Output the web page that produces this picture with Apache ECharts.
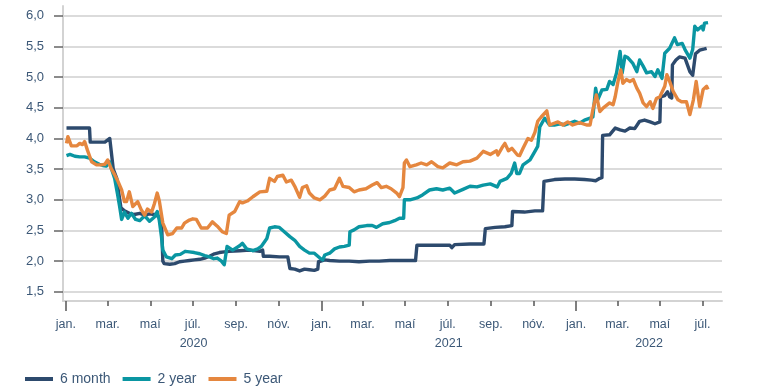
<!DOCTYPE html>
<html>
<head>
<meta charset="utf-8">
<script src="https://cdn.jsdelivr.net/npm/echarts@6/dist/echarts.min.js"></script>
<style>
  html, body { margin: 0; padding: 0; background: #ffffff; }
  #chart { width: 764px; height: 388px; }
</style>
</head>
<body>
<div id="chart"></div>
<script>
// Interest rates, %, by maturity
const seriesNames = ['6 month', '2 year', '5 year'];
const seriesColors = ['#2d4a6d', '#0a96a2', '#e5873f'];

// Icelandic month abbreviations used on the time axis
const monthLabels = ['jan.', 'feb.', 'mar.', 'apr.', 'maí', 'jún.', 'júl.', 'ágú.', 'sep.', 'okt.', 'nóv.', 'des.'];
const years = [2020, 2021, 2022];
const yTicks = [1.5, 2.0, 2.5, 3.0, 3.5, 4.0, 4.5, 5.0, 5.5, 6.0];

const sixMonth = [
  ['2020-01-02', 4.17], ['2020-01-21', 4.17], ['2020-02-04', 4.17], ['2020-02-05', 3.94], ['2020-02-18', 3.94],
  ['2020-02-26', 3.94], ['2020-03-04', 4.00], ['2020-03-06', 3.98], ['2020-03-09', 3.50], ['2020-03-14', 3.35],
  ['2020-03-17', 3.10], ['2020-03-20', 2.87], ['2020-03-25', 2.82], ['2020-04-01', 2.78], ['2020-04-08', 2.76],
  ['2020-04-16', 2.78], ['2020-04-23', 2.75], ['2020-04-30', 2.77], ['2020-05-07', 2.76], ['2020-05-14', 2.72],
  ['2020-05-17', 2.70], ['2020-05-19', 2.00], ['2020-05-21', 1.96], ['2020-05-29', 1.95], ['2020-06-05', 1.96],
  ['2020-06-12', 1.99], ['2020-06-19', 2.00], ['2020-06-26', 2.01], ['2020-07-03', 2.02], ['2020-07-11', 2.03],
  ['2020-07-18', 2.05], ['2020-07-25', 2.08], ['2020-08-01', 2.12], ['2020-08-08', 2.14], ['2020-08-15', 2.15],
  ['2020-08-22', 2.16], ['2020-09-06', 2.17], ['2020-09-20', 2.18], ['2020-10-05', 2.16], ['2020-10-09', 2.18],
  ['2020-10-10', 2.08], ['2020-10-19', 2.08], ['2020-11-02', 2.07], ['2020-11-14', 2.07], ['2020-11-17', 1.88],
  ['2020-11-24', 1.87], ['2020-12-01', 1.84], ['2020-12-08', 1.87], ['2020-12-15', 1.86], ['2020-12-22', 1.85],
  ['2020-12-27', 1.87], ['2020-12-28', 1.99], ['2021-01-06', 2.02], ['2021-01-13', 2.01], ['2021-01-27', 2.00],
  ['2021-02-10', 2.00], ['2021-02-24', 1.99], ['2021-03-11', 2.00], ['2021-03-25', 2.00], ['2021-04-09', 2.01],
  ['2021-04-23', 2.01], ['2021-05-08', 2.01], ['2021-05-16', 2.01], ['2021-05-18', 2.26], ['2021-06-05', 2.26],
  ['2021-07-04', 2.26], ['2021-07-07', 2.22], ['2021-07-11', 2.27], ['2021-08-02', 2.28], ['2021-08-22', 2.28],
  ['2021-08-24', 2.53], ['2021-09-07', 2.55], ['2021-09-21', 2.56], ['2021-10-01', 2.58], ['2021-10-02', 2.81],
  ['2021-10-19', 2.80], ['2021-11-03', 2.82], ['2021-11-14', 2.82], ['2021-11-16', 3.30], ['2021-12-01', 3.33],
  ['2021-12-16', 3.34], ['2021-12-30', 3.34], ['2022-01-13', 3.33], ['2022-01-23', 3.32], ['2022-01-29', 3.31],
  ['2022-02-04', 3.35], ['2022-02-07', 3.36], ['2022-02-08', 4.05], ['2022-02-18', 4.06], ['2022-02-26', 4.17],
  ['2022-03-05', 4.14], ['2022-03-12', 4.12], ['2022-03-19', 4.17], ['2022-03-26', 4.16], ['2022-04-02', 4.28],
  ['2022-04-09', 4.30], ['2022-04-17', 4.27], ['2022-04-24', 4.24], ['2022-05-01', 4.27], ['2022-05-02', 4.68],
  ['2022-05-08', 4.70], ['2022-05-12', 4.76], ['2022-05-15', 4.68], ['2022-05-18', 4.66], ['2022-05-19', 5.20],
  ['2022-05-24', 5.28], ['2022-05-29', 5.33], ['2022-06-06', 5.31], ['2022-06-13', 5.09], ['2022-06-17', 5.03],
  ['2022-06-21', 5.38], ['2022-06-27', 5.44], ['2022-07-04', 5.46], ['2022-07-07', 5.47]
];

const twoYear = [
  ['2020-01-02', 3.72], ['2020-01-07', 3.74], ['2020-01-14', 3.71], ['2020-01-21', 3.70], ['2020-01-28', 3.70],
  ['2020-02-04', 3.68], ['2020-02-11', 3.62], ['2020-02-18', 3.58], ['2020-02-23', 3.56], ['2020-02-28', 3.55],
  ['2020-03-04', 3.62], ['2020-03-06', 3.52], ['2020-03-11', 3.35], ['2020-03-15', 3.10], ['2020-03-18', 2.90],
  ['2020-03-21', 2.68], ['2020-03-25', 2.80], ['2020-03-30', 2.70], ['2020-04-04', 2.78], ['2020-04-10', 2.68],
  ['2020-04-16', 2.66], ['2020-04-23', 2.74], ['2020-04-30', 2.65], ['2020-05-07', 2.72], ['2020-05-11', 2.81],
  ['2020-05-14', 2.66], ['2020-05-17', 2.40], ['2020-05-19', 2.18], ['2020-05-24', 2.07], ['2020-06-01', 2.04],
  ['2020-06-06', 2.10], ['2020-06-13', 2.11], ['2020-06-20', 2.16], ['2020-06-26', 2.15], ['2020-07-03', 2.14],
  ['2020-07-11', 2.12], ['2020-07-18', 2.09], ['2020-07-25', 2.07], ['2020-07-31', 2.04], ['2020-08-05', 2.05],
  ['2020-08-11', 2.00], ['2020-08-15', 1.94], ['2020-08-19', 2.24], ['2020-08-27', 2.18], ['2020-09-06', 2.25],
  ['2020-09-10', 2.29], ['2020-09-16', 2.20], ['2020-09-25', 2.17], ['2020-10-02', 2.20], ['2020-10-07', 2.24],
  ['2020-10-15', 2.37], ['2020-10-19', 2.54], ['2020-10-26', 2.56], ['2020-11-02', 2.55], ['2020-11-09', 2.48],
  ['2020-11-17', 2.40], ['2020-11-24', 2.34], ['2020-12-01', 2.24], ['2020-12-08', 2.18], ['2020-12-15', 2.13],
  ['2020-12-22', 2.13], ['2020-12-30', 2.05], ['2021-01-03', 2.02], ['2021-01-06', 2.10], ['2021-01-13', 2.13],
  ['2021-01-20', 2.20], ['2021-01-27', 2.23], ['2021-02-03', 2.24], ['2021-02-10', 2.26], ['2021-02-11', 2.48],
  ['2021-02-17', 2.51], ['2021-02-24', 2.56], ['2021-03-07', 2.58], ['2021-03-15', 2.58], ['2021-03-21', 2.55],
  ['2021-03-30', 2.61], ['2021-04-09', 2.63], ['2021-04-16', 2.66], ['2021-04-23', 2.70], ['2021-04-29', 2.70],
  ['2021-04-30', 3.00], ['2021-05-08', 3.00], ['2021-05-18', 3.03], ['2021-05-26', 3.08], ['2021-06-05', 3.16],
  ['2021-06-15', 3.18], ['2021-06-24', 3.16], ['2021-07-04', 3.19], ['2021-07-11', 3.11], ['2021-07-23', 3.17],
  ['2021-08-02', 3.22], ['2021-08-12', 3.21], ['2021-08-21', 3.24], ['2021-08-31', 3.26], ['2021-09-10', 3.21],
  ['2021-09-14', 3.30], ['2021-09-24', 3.35], ['2021-09-30', 3.43], ['2021-10-05', 3.60], ['2021-10-08', 3.43],
  ['2021-10-12', 3.43], ['2021-10-17', 3.57], ['2021-10-27', 3.65], ['2021-11-03', 3.79], ['2021-11-07', 3.87],
  ['2021-11-10', 4.19], ['2021-11-17', 4.33], ['2021-11-24', 4.22], ['2021-12-01', 4.22], ['2021-12-09', 4.24],
  ['2021-12-16', 4.22], ['2021-12-23', 4.25], ['2021-12-30', 4.28], ['2022-01-06', 4.25], ['2022-01-13', 4.30],
  ['2022-01-21', 4.33], ['2022-01-25', 4.35], ['2022-01-29', 4.82], ['2022-02-01', 4.63], ['2022-02-07', 4.79],
  ['2022-02-14', 4.80], ['2022-02-18', 4.93], ['2022-02-23', 4.88], ['2022-02-28', 5.07], ['2022-03-05', 5.42],
  ['2022-03-08', 5.07], ['2022-03-12', 5.34], ['2022-03-16', 5.32], ['2022-03-23', 5.23], ['2022-03-29', 5.09],
  ['2022-04-02', 5.28], ['2022-04-07', 5.18], ['2022-04-12', 5.07], ['2022-04-19', 5.09], ['2022-04-24', 5.01],
  ['2022-04-28', 5.12], ['2022-05-04', 4.98], ['2022-05-08', 5.39], ['2022-05-15', 5.47], ['2022-05-22', 5.64],
  ['2022-05-26', 5.53], ['2022-06-02', 5.55], ['2022-06-06', 5.45], ['2022-06-13', 5.31], ['2022-06-17', 5.45],
  ['2022-06-20', 5.83], ['2022-06-24', 5.77], ['2022-06-30', 5.83], ['2022-07-02', 5.77], ['2022-07-04', 5.88],
  ['2022-07-09', 5.89]
];

const fiveYear = [
  ['2020-01-02', 3.92], ['2020-01-04', 4.03], ['2020-01-09', 3.88], ['2020-01-17', 3.88], ['2020-01-21', 3.92],
  ['2020-01-25', 3.90], ['2020-01-28', 3.95], ['2020-02-01', 3.81], ['2020-02-07', 3.62], ['2020-02-14', 3.57],
  ['2020-02-21', 3.57], ['2020-02-26', 3.58], ['2020-03-01', 3.65], ['2020-03-06', 3.51], ['2020-03-11', 3.41],
  ['2020-03-15', 3.32], ['2020-03-21', 3.16], ['2020-03-25', 2.97], ['2020-03-28', 2.97], ['2020-04-01', 3.13],
  ['2020-04-06', 2.89], ['2020-04-13', 2.97], ['2020-04-18', 2.84], ['2020-04-23', 2.75], ['2020-04-27', 2.85],
  ['2020-05-03', 2.80], ['2020-05-07', 2.94], ['2020-05-11', 3.11], ['2020-05-14', 2.98], ['2020-05-19', 2.62],
  ['2020-05-26', 2.43], ['2020-06-02', 2.45], ['2020-06-08', 2.54], ['2020-06-15', 2.54], ['2020-06-19', 2.62],
  ['2020-06-26', 2.67], ['2020-07-01', 2.69], ['2020-07-06', 2.68], ['2020-07-13', 2.54], ['2020-07-22', 2.54],
  ['2020-07-29', 2.64], ['2020-08-05', 2.57], ['2020-08-12', 2.48], ['2020-08-18', 2.45], ['2020-08-22', 2.75],
  ['2020-08-30', 2.81], ['2020-09-06', 2.97], ['2020-09-10', 2.95], ['2020-09-17', 2.98], ['2020-09-25', 3.05],
  ['2020-10-05', 3.13], ['2020-10-15', 3.14], ['2020-10-19', 3.35], ['2020-10-26', 3.30], ['2020-10-30', 3.38],
  ['2020-11-07', 3.40], ['2020-11-12', 3.29], ['2020-11-19', 3.32], ['2020-11-24', 3.22], ['2020-12-01', 3.04],
  ['2020-12-05', 3.20], ['2020-12-11', 3.23], ['2020-12-15', 3.11], ['2020-12-22', 3.03], ['2020-12-30', 3.00],
  ['2021-01-06', 3.06], ['2021-01-13', 3.16], ['2021-01-20', 3.18], ['2021-01-27', 3.35], ['2021-02-01', 3.22],
  ['2021-02-10', 3.20], ['2021-02-17', 3.13], ['2021-02-24', 3.16], ['2021-03-06', 3.18], ['2021-03-15', 3.24],
  ['2021-03-22', 3.28], ['2021-03-28', 3.20], ['2021-04-04', 3.22], ['2021-04-11', 3.18], ['2021-04-19', 3.11],
  ['2021-04-23', 3.05], ['2021-04-28', 3.20], ['2021-04-30', 3.60], ['2021-05-03', 3.65], ['2021-05-08', 3.54],
  ['2021-05-17', 3.57], ['2021-05-24', 3.60], ['2021-06-01', 3.57], ['2021-06-08', 3.62], ['2021-06-17', 3.54],
  ['2021-06-24', 3.52], ['2021-07-04', 3.60], ['2021-07-14', 3.57], ['2021-07-23', 3.62], ['2021-08-02', 3.63],
  ['2021-08-12', 3.68], ['2021-08-21', 3.79], ['2021-08-31', 3.74], ['2021-09-09', 3.80], ['2021-09-11', 3.73],
  ['2021-09-18', 3.87], ['2021-09-21', 3.92], ['2021-09-26', 3.80], ['2021-10-01', 3.84], ['2021-10-09', 3.73],
  ['2021-10-12', 3.72], ['2021-10-17', 3.84], ['2021-10-24', 4.00], ['2021-10-29', 3.97], ['2021-11-03', 4.10],
  ['2021-11-07', 4.28], ['2021-11-12', 4.35], ['2021-11-20', 4.45], ['2021-11-24', 4.22], ['2021-12-06', 4.27],
  ['2021-12-13', 4.22], ['2021-12-20', 4.27], ['2021-12-27', 4.22], ['2022-01-06', 4.26], ['2022-01-16', 4.22],
  ['2022-01-21', 4.22], ['2022-01-25', 4.47], ['2022-01-30', 4.71], ['2022-02-04', 4.44], ['2022-02-09', 4.50],
  ['2022-02-18', 4.58], ['2022-02-23', 4.55], ['2022-02-26', 4.68], ['2022-03-02', 4.93], ['2022-03-06', 5.12],
  ['2022-03-09', 4.90], ['2022-03-14', 4.96], ['2022-03-19', 4.93], ['2022-03-24', 4.96], ['2022-03-29', 4.82],
  ['2022-04-02', 4.74], ['2022-04-07', 4.58], ['2022-04-12', 4.52], ['2022-04-17', 4.60], ['2022-04-21', 4.49],
  ['2022-04-26', 4.65], ['2022-05-01', 4.68], ['2022-05-08', 4.85], ['2022-05-11', 5.04], ['2022-05-15', 4.93],
  ['2022-05-20', 4.77], ['2022-05-27', 4.63], ['2022-06-01', 4.60], ['2022-06-08', 4.60], ['2022-06-13', 4.39],
  ['2022-06-18', 4.63], ['2022-06-22', 4.93], ['2022-06-27', 4.52], ['2022-07-02', 4.80], ['2022-07-07', 4.85],
  ['2022-07-09', 4.80]
];

const seriesData = [sixMonth, twoYear, fiveYear];

// Dates become day timestamps on a numeric axis
const toTime = s => {
  const p = s.split('-').map(Number);
  return new Date(p[0], p[1] - 1, p[2]).getTime();
};

// Axis range and tick positions
const axisStart = new Date(2019, 11, 28).getTime();
const axisEnd = new Date(2022, 6, 29).getTime();
const monthTicks = [];
years.forEach(y => {
  for (let m = 0; m < 12; m += 2) {
    const t = new Date(y, m, 1).getTime();
    if (t >= axisStart && t <= axisEnd) monthTicks.push(t);
  }
});
const yearTicks = years.map(y => new Date(y, 0, 1).getTime());
// Each year label sits in the middle of the part of that year shown on the axis
const yearLabelPos = years.map(y => {
  const a = Math.max(new Date(y, 0, 1).getTime(), axisStart);
  const b = Math.min(new Date(y + 1, 0, 1).getTime(), axisEnd);
  return (a + b) / 2;
});

const textColor = '#3c5877';
const font = 'Liberation Sans, Arial, sans-serif';

const chart = echarts.init(document.getElementById('chart'), null, { renderer: 'canvas' });
chart.setOption({
  animation: false,
  backgroundColor: '#ffffff',
  grid: { left: 63, right: 42, top: 6, bottom: 87 },
  legend: {
    left: 25,
    top: 372,
    padding: 0,
    icon: 'rect',
    itemWidth: 28,
    itemHeight: 4,
    itemGap: 12,
    textStyle: { color: textColor, fontSize: 14, fontFamily: font, padding: [0, 0, 0, 2] },
    data: seriesNames
  },
  xAxis: [
    {
      type: 'value',
      min: axisStart,
      max: axisEnd,
      splitLine: { show: false },
      axisLine: { lineStyle: { color: '#d3d3d3', width: 2 } },
      axisTick: { customValues: monthTicks, length: 5, lineStyle: { color: '#555555', width: 1.5 } },
      axisLabel: {
        customValues: monthTicks,
        margin: 17,
        color: textColor,
        fontSize: 12.5,
        fontFamily: font,
        formatter: v => monthLabels[new Date(v).getMonth()]
      }
    },
    {
      type: 'value',
      min: axisStart,
      max: axisEnd,
      position: 'bottom',
      splitLine: { show: false },
      axisLine: { show: false },
      axisTick: { customValues: yearTicks, length: 10, lineStyle: { color: '#555555', width: 1.5 } },
      axisLabel: {
        customValues: yearLabelPos,
        margin: 36,
        color: textColor,
        fontSize: 12.5,
        fontFamily: font,
        formatter: v => String(new Date(v).getFullYear())
      }
    }
  ],
  yAxis: {
    type: 'value',
    min: 1.35,
    max: 6.16,
    axisLine: { show: true, lineStyle: { color: '#d3d3d3', width: 2 } },
    axisTick: { show: true, customValues: yTicks, length: 9, lineStyle: { color: '#666666', width: 1.5 } },
    splitLine: { show: true, lineStyle: { color: '#cfcfcf', width: 1.5 } },
    axisLabel: {
      customValues: yTicks,
      margin: 19,
      color: textColor,
      fontSize: 13,
      fontFamily: font,
      formatter: v => v.toFixed(1).replace('.', ',')
    }
  },
  series: seriesNames.map((name, i) => ({
    name: name,
    type: 'line',
    xAxisIndex: 0,
    data: seriesData[i].map(d => [toTime(d[0]), d[1]]),
    showSymbol: false,
    symbol: 'none',
    color: seriesColors[i],
    lineStyle: { width: 3.4, color: seriesColors[i], join: 'round' }
  }))
});
</script>
</body>
</html>
